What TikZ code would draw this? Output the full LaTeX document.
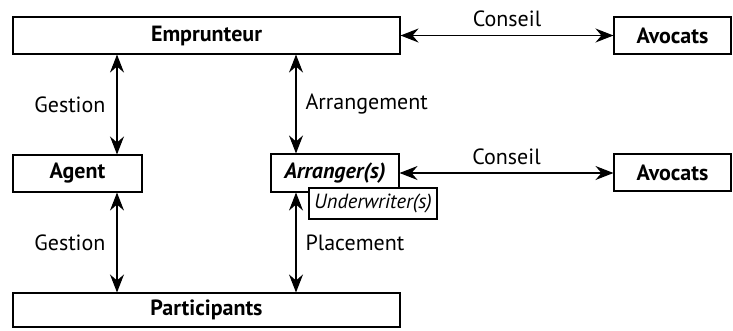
\documentclass[tikz,border=0pt]{standalone}
\usepackage{fontspec}
\setmainfont{PT Sans}
\usetikzlibrary{arrows.meta}
\begin{document}
\begin{tikzpicture}[x=1pt,y=-1pt,
  box/.style={draw,line width=1.1pt,fill=white,inner sep=0pt,font=\fontsize{22}{26}\selectfont\bfseries},
  lbl/.style={font=\fontsize{22}{26}\selectfont,inner sep=0pt},
  arr/.style={line width=1.1pt,{Stealth[length=18pt,width=14pt,inset=6pt]}-{Stealth[length=18pt,width=14pt,inset=6pt]}}]
\useasboundingbox (0,0) rectangle (733,330);
\node[box,minimum width=387pt,minimum height=37pt] (emp) at (206.5,35.5) {Emprunteur};
\node[box,minimum width=117pt,minimum height=37pt] (av1) at (672.5,35.5) {Avocats};
\node[box,minimum width=129pt,minimum height=37pt] (agent) at (77.5,173.5) {Agent};
\node[box,minimum width=128pt,minimum height=38pt] (arr) at (335,173) {\itshape Arranger(s)};
\node[box,minimum width=128pt,minimum height=31pt,font=\fontsize{20.5}{24}\selectfont\itshape] (und) at (373,203.5) {Underwriter(s)};
\node[box,minimum width=117pt,minimum height=37pt] (av2) at (672.5,172.5) {Avocats};
\node[box,minimum width=387pt,minimum height=34pt] (part) at (206.5,310) {Participants};
\coordinate (gx) at (117,0);
\coordinate (mx) at (296,0);
\draw[arr] (emp.east) -- node[lbl,above=8pt] (c1) {Conseil} (av1.west);
\draw[arr] (arr.east) -- node[lbl,above=8pt] (c2) {Conseil} (arr.east -| av2.west);
\draw[arr] (emp.south -| gx) -- node[lbl,left=11pt] (g1) {Gestion} (agent.north -| gx);
\draw[arr] (emp.south -| mx) -- node[lbl,right=9pt] (a1) {Arrangement} (arr.north -| mx);
\draw[arr] (agent.south -| gx) -- node[lbl,left=11pt] (g2) {Gestion} (part.north -| gx);
\draw[arr] (arr.south -| mx) -- node[lbl,right=9pt] (p1) {Placement} (part.north -| mx);
\end{tikzpicture}
\end{document}
